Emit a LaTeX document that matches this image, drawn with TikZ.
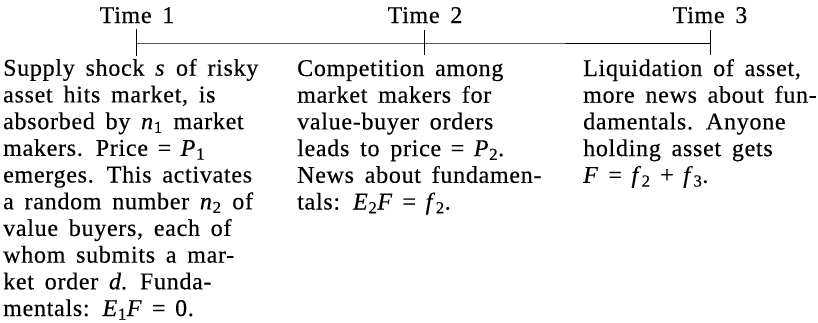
\documentclass[tikz,border=0pt]{standalone}
\usepackage{fontspec}
\setmainfont{Liberation Serif}[LetterSpace=3,WordSpace=1.6,FakeBold=0.4]
\newcommand{\eqsgn}{\hspace{0.4em}=\hspace{0.4em}}
\newcommand{\plsgn}{\hspace{0.4em}+\hspace{0.4em}}
\begin{document}
\begin{tikzpicture}[x=1pt,y=1pt,
  txt/.style={anchor=base west,align=left,inner sep=0pt,font=\fontsize{24}{26.7}\selectfont},
  lbl/.style={anchor=base,inner sep=0pt,font=\fontsize{24}{26.7}\selectfont},
  tl/.style={line width=1pt,black}]
\useasboundingbox (0,0) rectangle (818,-322);
% timeline points
\coordinate (p1) at (136,-43);
\coordinate (p2) at (424,-43);
\coordinate (p3) at (710,-43);
\coordinate (p1t) at (136,-29);
\coordinate (p1b) at (136,-56);
\coordinate (p2t) at (424,-30);
\coordinate (p2b) at (424,-55);
\coordinate (p3t) at (710,-30);
\coordinate (p3b) at (710,-55);
\draw[tl] (p1) -- (p2) -- (p3);
\draw[tl] (p1t) -- (p1b);
\draw[tl] (p2t) -- (p2b);
\draw[tl] (p3t) -- (p3b);
% labels
\node[lbl] (time1) at (137,-23) {Time 1};
\node[lbl] (time2) at (425,-23) {Time 2};
\node[lbl] (time3) at (710,-23) {Time 3};
% columns (anchored at the baseline of their last line)
\node[txt] (col1) at (3,-316) {Supply shock \textit{s} of risky\\
asset hits market, is\\
absorbed by \textit{n}\textsubscript{1} market\\
makers. Price\eqsgn\textit{P}\textsubscript{1}\\
emerges. This activates\\
a random number \textit{n}\textsubscript{2} of\\
value buyers, each of\\
whom submits a mar-\\
ket order \textit{d}. Funda-\\
mentals: \textit{E}\textsubscript{1}\textit{F}\eqsgn 0.};
\node[txt] (col2) at (297,-209.5) {Competition among\\
market makers for\\
value-buyer orders\\
leads to price\eqsgn\textit{P}\textsubscript{2}.\\
News about fundamen-\\
tals: \textit{E}\textsubscript{2}\textit{F}\eqsgn\textit{f}\textsubscript{2}.};
\node[txt] (col3) at (583,-182.8) {Liquidation of asset,\\
more news about fun-\\
damentals. Anyone\\
holding asset gets\\
\textit{F}\eqsgn\textit{f}\textsubscript{2}\plsgn\textit{f}\textsubscript{3}.};
\end{tikzpicture}
\end{document}
